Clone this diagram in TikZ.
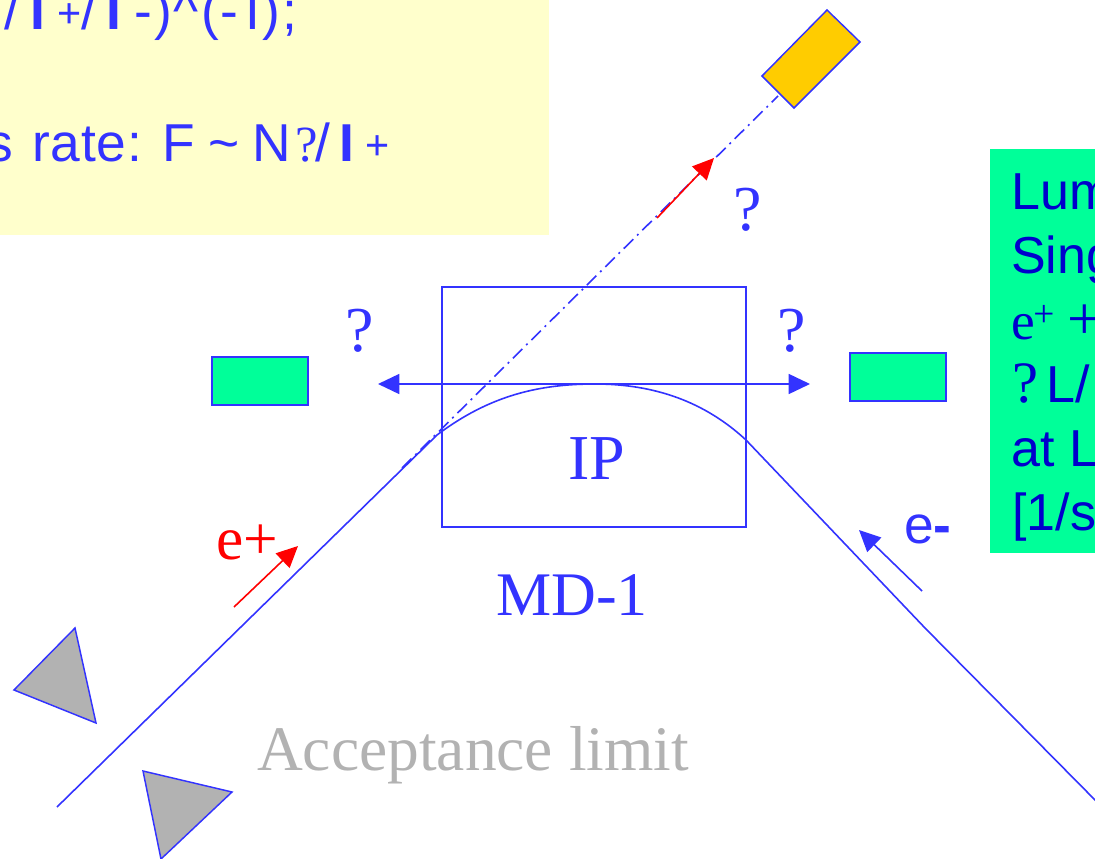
\documentclass[tikz,border=0pt]{standalone}
\usepackage{fontspec}
\setmainfont{Liberation Serif}
\setsansfont{Liberation Sans}
\usetikzlibrary{arrows.meta}
\definecolor{bl}{HTML}{3333FF}
\definecolor{dbl}{HTML}{0000CC}
\definecolor{yel}{HTML}{FFFFCC}
\definecolor{grn}{HTML}{00FF99}
\definecolor{org}{HTML}{FFCC00}
\definecolor{gry}{HTML}{B2B2B2}
\newcommand{\fs}[1]{\fontsize{#1}{#1}\selectfont}
\tikzset{
 x=0.75pt,y=-0.75pt,
 beam/.style={draw=bl,line width=1.2pt},
 serif/.style={inner sep=0pt,text=bl,font=\fs{48}},
 ytext/.style={inner sep=0pt,anchor=base west,text=bl,font=\sffamily\fs{40}},
 yplus/.style={inner sep=0pt,anchor=base west,text=bl,font=\sffamily\fs{31}},
 gtext/.style={inner sep=0pt,anchor=base west,text=dbl,font=\sffamily\fs{39}},
 stext/.style={inner sep=0pt,anchor=base west,text=dbl,font=\fs{40}},
 shp/.style={draw=bl,line width=1.1pt},
 bigtip/.tip={Triangle[length=16pt,width=15pt]},
}
\begin{document}
\begin{tikzpicture}
\useasboundingbox (0,0) rectangle (1095,859);
\clip (0,0) rectangle (1095,859);
% panels
\node[fill=yel,inner sep=0pt,minimum width=549*0.75pt,minimum height=235*0.75pt,anchor=north west] (yellow) at (0,0) {};
\node[fill=grn,inner sep=0pt,minimum width=105*0.75pt,minimum height=404*0.75pt,anchor=north west] (green) at (990,149) {};
% yellow text, line 1
\node[ytext] (y1a) at (4,30) {/};
\node[ytext] (y1b) at (30,30) {\textbf{I}};
\node[yplus] (y2) at (57,28) {+};
\node[ytext] (y3a) at (81,30) {/};
\node[ytext] (y3b) at (106,30) {\textbf{I}};
\node[ytext] (y4a) at (134,30) {-};
\node[ytext] (y4b) at (154,30) {)};
\node[ytext] (y4c) at (173,30) {\textasciicircum};
\node[ytext] (y4d) at (201,30) {(};
\node[ytext] (y4e) at (220,30) {-};
\node[ytext] (y4f) at (245,30) {I};
\node[ytext] (y4g) at (262,30) {)};
\node[ytext] (y4h) at (282,30) {;};
% yellow text, line 2
\node[ytext] (y5) at (-14,162) {s};
\node[ytext,font=\sffamily\fs{40}\addfontfeature{LetterSpace=1.5}] (y5b) at (32,162) {rate:};
\node[ytext] (y5c) at (162,162) {F};
\node[ytext] (y6) at (208,162) {\textasciitilde};
\node[ytext] (y7) at (252,162) {N};
\node[serif,anchor=base west,font=\fs{38}] (y8) at (295,162) {?};
\node[ytext] (y9a) at (315,162) {/};
\node[ytext] (y9b) at (339,162) {\textbf{I}};
\node[yplus] (y10) at (365,160) {+};
% green text
\node[gtext] (g1) at (1011,210) {Lum};
\node[gtext] (g2) at (1011,273) {Sing};
\node[stext] (g3a) at (1011,339) {e};
\node[stext,font=\fs{28}] (g3b) at (1033,326) {+};
\node[stext,font=\fs{46}] (g3c) at (1067,339) {+};
\node[stext,font=\fs{44}] (g4) at (1012,402) {?};
\node[gtext] (g5) at (1046,402) {L/};
\node[gtext] (g6) at (1011,466) {at L};
\node[gtext] (g7) at (1012,530) {[1/s};
% boxes
\draw[shp] (442,287) rectangle (746,527);
\draw[shp,fill=grn] (212,357) rectangle (308,405);
\draw[shp,fill=grn] (850,353) rectangle (946,401);
\draw[shp,fill=org] (827,10) -- (860,42) -- (794,108) -- (762,76) -- cycle;
\draw[shp,fill=gry] (75,628) -- (96,723) -- (14,690) -- cycle;
\draw[shp,fill=gry] (143,771) -- (232,792) -- (161,859) -- cycle;
% beam
\coordinate (a) at (57,807);
\coordinate (b) at (437,435);
\coordinate (c) at (595,384);
\coordinate (d) at (746,440);
\coordinate (e) at (925,628);
\coordinate (f) at (1097,802);
\coordinate (s) at (402,468);
\coordinate (t) at (778,96);
\draw[beam] (a) -- (b) .. controls (490,395) and (540,384) .. (c) .. controls (655,384) and (705,402) .. (d) -- (e) -- (f);
\draw[beam,dash pattern=on 10pt off 4pt on 1.5pt off 4pt] (s) -- (t);
% arrows
\coordinate (lft) at (378,384);
\coordinate (rgt) at (810,384);
\draw[beam,{bigtip}-{bigtip}] (lft) -- (rgt);
\coordinate (r1) at (657,218);
\coordinate (r2) at (714,158);
\draw[draw=red,line width=1.2pt,fill=red,-{bigtip}] (r1) -- (r2);
\coordinate (p1) at (234,607);
\coordinate (p2) at (298,546);
\draw[draw=red,line width=1.2pt,-{bigtip}] (p1) -- (p2);
\coordinate (m1) at (922,591);
\coordinate (m2) at (859,530);
\draw[beam,-{bigtip}] (m1) -- (m2);
% labels
\node[serif] (q1) at (360,331) {?};
\node[serif] (q2) at (792,331) {?};
\node[serif] (q3) at (748,210) {?};
\node[serif,anchor=base] (ip) at (597,479) {IP};
\node[serif,anchor=base,font=\fs{46.5}] (mdl) at (572,615) {MD-1};
\node[serif,anchor=base,text=red,font=\fs{46}] (ep) at (247,559) {e+};
\node[serif,anchor=base,font=\sffamily\fs{40}] (em) at (928,543) {e\textbf{-}};
\node[serif,anchor=base,text=gry,font=\fs{47.6}] (acc) at (473,770) {Acceptance limit};
\end{tikzpicture}
\end{document}
